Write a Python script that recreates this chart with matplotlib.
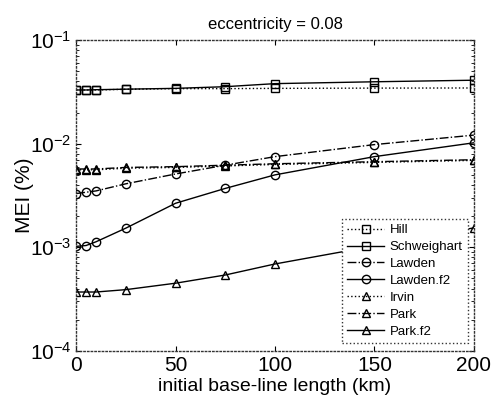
import matplotlib
matplotlib.use('Agg')
import matplotlib.pyplot as plt

plt.rcParams['font.family'] = ['Liberation Sans', 'DejaVu Sans']
plt.rcParams['mathtext.fontset'] = 'custom'
plt.rcParams['mathtext.rm'] = 'Liberation Sans'

# baseline length (km)
x = [0, 5, 10, 25, 50, 75, 100, 150, 200]

# MEI (%)
hill = [0.033, 0.033, 0.033, 0.0335, 0.034, 0.034, 0.0342, 0.0344, 0.0345]
schweighart = [0.033, 0.033, 0.0332, 0.0336, 0.0342, 0.0355, 0.038, 0.0396, 0.041]
lawden = [0.0033, 0.0034, 0.0035, 0.0041, 0.0051, 0.0062, 0.0075, 0.0098, 0.0121]
lawden_f2 = [0.00102, 0.00104, 0.00113, 0.00153, 0.00266, 0.0037, 0.0050, 0.0075, 0.0102]
irvin = [0.0056, 0.0056, 0.0056, 0.0058, 0.0059, 0.0061, 0.0063, 0.0066, 0.0069]
park = [0.0057, 0.0057, 0.0057, 0.0059, 0.0060, 0.0062, 0.0064, 0.0067, 0.0070]
park_f2 = [0.00037, 0.00037, 0.00037, 0.00039, 0.00045, 0.00054, 0.00069, 0.00103, 0.00154]

series = [
    ('Hill', hill, ':', 's'),
    ('Schweighart', schweighart, '-', 's'),
    ('Lawden', lawden, '-.', 'o'),
    ('Lawden.f2', lawden_f2, '-', 'o'),
    ('Irvin', irvin, ':', '^'),
    ('Park', park, '-.', '^'),
    ('Park.f2', park_f2, '-', '^'),
]

fig = plt.figure(figsize=(4.91, 4.01), dpi=100)
ax = fig.add_axes([0.155, 0.125, 0.81, 0.775])

for name, y, ls, mk in series:
    ax.plot(x, y, color='black', linestyle=ls, linewidth=1.0, marker=mk,
            markersize=6, markerfacecolor='none', markeredgecolor='black',
            markeredgewidth=1.0, label=name)

ax.set_yscale('log')
ax.set_ylim(1e-4, 1e-1)
ax.set_xlim(0, 200)
ax.set_xticks([0, 50, 100, 150, 200])
ax.set_yticks([1e-4, 1e-3, 1e-2, 1e-1])

ax.tick_params(axis='both', which='both', direction='in', top=True, right=True)
ax.tick_params(axis='both', labelsize=15)

for sp in ax.spines.values():
    sp.set_linestyle(':')
    sp.set_linewidth(1.0)
    sp.set_color('#333333')

ax.set_title('eccentricity = 0.08', fontsize=12, pad=8)
ax.set_xlabel('initial base-line length (km)', fontsize=14, labelpad=2)
ax.set_ylabel('MEI (%)', fontsize=15)
ax.yaxis.set_label_coords(-0.105, 0.5)

leg = ax.legend(loc='lower right', bbox_to_anchor=(0.985, 0.026), fontsize=9.5,
                handlelength=2.8, fancybox=False, framealpha=1, borderaxespad=0,
                borderpad=0.4, labelspacing=0.35, handletextpad=0.4)
leg.get_frame().set_edgecolor('#333333')
leg.get_frame().set_linestyle(':')

fig.savefig('out.png', dpi=100)
